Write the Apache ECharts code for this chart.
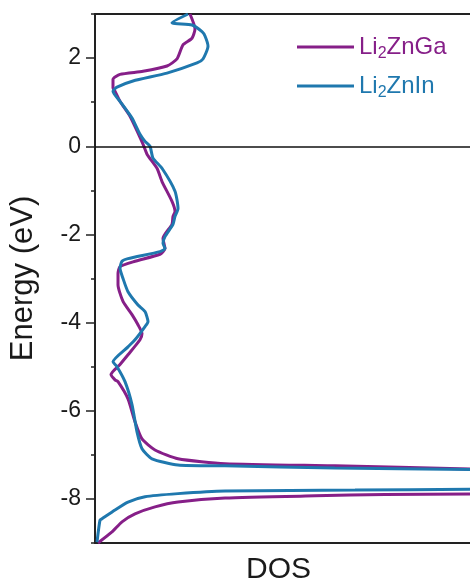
<!DOCTYPE html>
<html>
<head>
<meta charset="utf-8">
<script src="https://cdn.jsdelivr.net/npm/echarts@6/dist/echarts.min.js"></script>
<style>
  html, body { margin: 0; padding: 0; background: #fff; }
  #main { width: 470px; height: 588px; }
</style>
</head>
<body>
<div id="main"></div>
<script>
// DOS (arb. units) vs energy (eV)
// each point: [DOS, Energy]
const gaUpper = [
  [95, 3.0], [100, 2.66], [97, 2.45], [88, 2.3], [82, 1.98], [72, 1.82], [48, 1.7],
  [25, 1.63], [18, 1.52], [18, 1.32], [20, 1.25], [25, 1.02], [35, 0.68], [48, 0.05],
  [52, -0.18], [62, -0.5], [67, -0.8], [77, -1.25], [80, -1.48], [78, -1.59], [77, -1.77],
  [68, -2.09], [70, -2.32], [65, -2.45], [40, -2.61], [25, -2.73], [23, -2.89], [23, -3.14],
  [28, -3.52], [37, -3.82], [43, -4.05], [47, -4.25], [45, -4.39], [33, -4.73], [25, -4.95],
  [16, -5.18], [20, -5.3], [23, -5.34], [33, -5.73], [40, -6.25], [47, -6.64], [60, -6.89],
  [83, -7.09], [130, -7.2], [240, -7.25], [375, -7.32]
]
const gaLower = [
  [3, -9.0], [17, -8.75], [27, -8.52], [40, -8.34], [60, -8.18], [83, -8.07], [130, -7.98],
  [220, -7.93], [290, -7.9], [375, -7.89]
]
const inUpper = [
  [93, 3.0], [77, 2.8], [97, 2.75], [107, 2.6], [110, 2.5], [113, 2.27], [108, 1.98],
  [102, 1.89], [72, 1.66], [38, 1.48], [22, 1.34], [18, 1.25], [25, 1.02], [32, 0.8],
  [37, 0.64], [45, 0.27], [50, 0.11], [55, 0], [58, -0.27], [67, -0.5], [80, -1.02],
  [83, -1.41], [80, -1.59], [78, -1.77], [70, -2.05], [68, -2.2], [70, -2.32], [65, -2.39],
  [33, -2.55], [27, -2.61], [25, -2.77], [28, -3.0], [33, -3.3], [43, -3.6], [50, -3.75],
  [53, -3.98], [50, -4.09], [40, -4.39], [33, -4.55], [18, -4.89], [22, -5.0], [30, -5.34],
  [37, -5.86], [42, -6.48], [47, -6.86], [57, -7.09], [83, -7.23], [130, -7.25],
  [240, -7.3], [375, -7.33]
]
const inLower = [
  [2, -8.98], [5, -8.48], [7, -8.45], [20, -8.25], [33, -8.07], [50, -7.95], [83, -7.88],
  [130, -7.82], [260, -7.8], [375, -7.78]
]
const majorTicks = [-8, -6, -4, -2, 0, 2]

const purple = '#861f88'
const blue = '#1f78ae'

const myChart = echarts.init(document.getElementById('main'))

const sub = function (fs, color) {
  return {
    a: { fontSize: fs, color: color, fontFamily: 'Liberation Sans' },
    s: { fontSize: 16, color: color, fontFamily: 'Liberation Sans', padding: [14, 0, 0, 0] }
  }
}

function line (name, data, color, z) {
  return {
    name: name,
    type: 'line',
    data: data,
    symbol: 'none',
    smooth: 0.2,
    z: z,
    lineStyle: { color: color, width: 3 },
    itemStyle: { color: color }
  }
}

const options = {
  animation: false,
  grid: { left: 95, right: 0, top: 14, bottom: 45, outerBoundsMode: 'none' },
  legend: [
    {
      data: ['Li2ZnGa'],
      left: 292, top: 30,
      icon: 'rect',
      itemWidth: 57, itemHeight: 3, itemGap: 7,
      formatter: '{a|Li}{s|2}{a|ZnGa}',
      textStyle: { rich: sub(24, purple) }
    },
    {
      data: ['Li2ZnIn'],
      left: 292, top: 69,
      icon: 'rect',
      itemWidth: 57, itemHeight: 3, itemGap: 7,
      formatter: '{a|Li}{s|2}{a|ZnIn}',
      textStyle: { rich: sub(24, blue) }
    }
  ],
  xAxis: [
    {
      type: 'value', min: 0, max: 375,
      name: 'DOS', nameLocation: 'middle', nameGap: 12,
      nameTextStyle: { fontSize: 30, color: '#1a1a1a', fontFamily: 'Liberation Sans', padding: [0, 8, 0, 0] },
      axisLine: { show: true, onZero: false, lineStyle: { color: '#222', width: 2 } },
      axisTick: { show: false },
      axisLabel: { show: false },
      splitLine: { show: false }
    },
    {
      type: 'value', min: 0, max: 375, position: 'top',
      axisLine: { show: true, onZero: false, lineStyle: { color: '#222', width: 2 } },
      axisTick: { show: false },
      axisLabel: { show: false },
      splitLine: { show: false }
    }
  ],
  yAxis: [
    {
      type: 'value', min: -9, max: 3, interval: 1,
      name: 'Energy (eV)', nameLocation: 'middle', nameGap: 56,
      nameTextStyle: { fontSize: 31, color: '#1a1a1a', fontFamily: 'Liberation Sans' },
      axisLine: { show: true, onZero: false, lineStyle: { color: '#222', width: 2 } },
      axisTick: { show: true, length: 4, lineStyle: { color: '#222', width: 1.5 } },
      axisLabel: {
        fontSize: 23, color: '#1a1a1a', fontFamily: 'Liberation Sans', margin: 14,
        formatter: function (v) { return majorTicks.indexOf(v) >= 0 ? String(v) : '' }
      },
      splitLine: { show: false }
    },
    {
      type: 'value', min: -9, max: 3, position: 'left',
      axisLine: { show: false },
      axisTick: { show: true, length: 9, customValues: majorTicks, lineStyle: { color: '#222', width: 1.5 } },
      axisLabel: { show: false },
      splitLine: { show: false }
    }
  ],
  series: [
    Object.assign(line('Li2ZnGa', gaUpper, purple, 2), {
      markLine: {
        silent: true, symbol: 'none', label: { show: false },
        lineStyle: { color: '#111', width: 1.6, type: 'solid' },
        data: [{ yAxis: 0 }]
      }
    }),
    line('Li2ZnGa', gaLower, purple, 2),
    line('Li2ZnIn', inUpper, blue, 3),
    line('Li2ZnIn', inLower, blue, 3)
  ]
}
myChart.setOption(options)
</script>
</body>
</html>
